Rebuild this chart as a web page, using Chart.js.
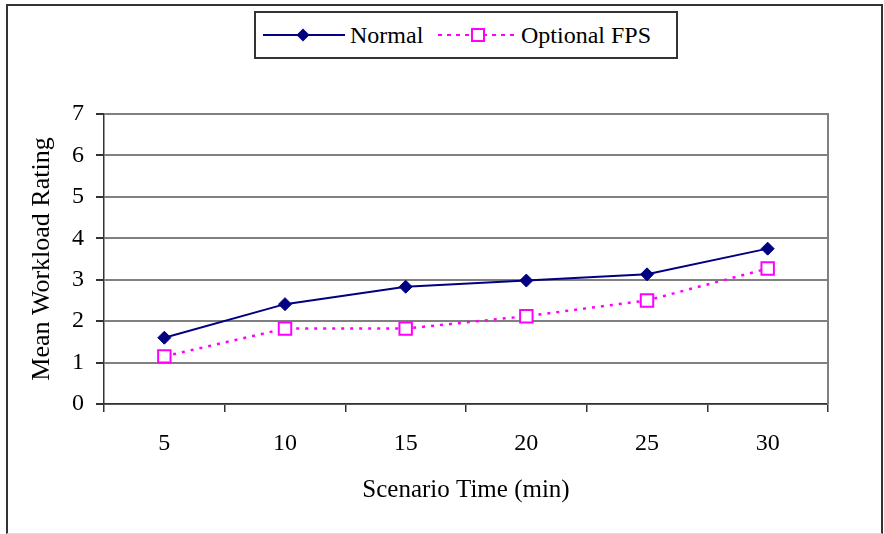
<!DOCTYPE html>
<html>
<head>
<meta charset="utf-8">
<script src="https://cdn.jsdelivr.net/npm/chart.js@4.4.1/dist/chart.umd.min.js"></script>
<style>
  body { margin: 0; background: #fff; }
  #wrap { position: relative; width: 884px; height: 534px; overflow: hidden;
          font-family: "Liberation Serif", "Times New Roman", serif; }
  #chart { position: absolute; left: 0; top: 0; }
  #frame { position: absolute; left: 6px; top: 4px; width: 877px; height: 530px;
           border: 2px solid #333; border-bottom: 1px solid #ddd; box-sizing: border-box; }
  #legend { position: absolute; left: 254px; top: 11px; width: 424px; height: 48px;
            border: 2px solid #333; box-sizing: border-box; background: #fff; }
  .item { position: absolute; top: 0; height: 44px; display: flex; align-items: center; }
  .item span { font-size: 24px; color: #000; margin-left: 5px; }
</style>
</head>
<body>
<div id="wrap">
  <canvas id="chart" width="884" height="534"></canvas>
  <div id="frame"></div>
  <div id="legend"></div>
</div>
<script>
// data
var times = ['5', '10', '15', '20', '25', '30'];
var normal = [1.6, 2.41, 2.83, 2.98, 3.13, 3.75];
var optionalFps = [1.15, 1.82, 1.82, 2.12, 2.5, 3.27];
var seriesNames = ['Normal', 'Optional FPS'];
var yMin = 0, yMax = 7, yStep = 1;

var navy = '#000080';
var magenta = '#FF00FF';

// legend drawn as html so it can have the boxed look of the original
var legend = document.getElementById('legend');
legend.innerHTML =
    '<div class="item" style="left:7px">' +
    '<svg width="82" height="20"><line x1="0" y1="10" x2="82" y2="10" stroke="' + navy + '" stroke-width="2"/>' +
    '<polygon points="40,3.5 46.5,10 40,16.5 33.5,10" fill="' + navy + '"/></svg>' +
    '<span>' + seriesNames[0] + '</span></div>' +
    '<div class="item" style="left:182px">' +
    '<svg width="78" height="20"><line x1="0" y1="10" x2="78" y2="10" stroke="' + magenta + '" stroke-width="2" stroke-dasharray="4 5"/>' +
    '<rect x="34" y="4" width="12" height="12" fill="#fff" stroke="' + magenta + '" stroke-width="2"/></svg>' +
    '<span>' + seriesNames[1] + '</span></div>';

var plotFrame = {
    id: 'plotFrame',
    beforeDatasetsDraw: function (chart) {
        var a = chart.chartArea, ctx = chart.ctx;
        ctx.save();
        ctx.strokeStyle = '#808080';
        ctx.lineWidth = 2;
        ctx.beginPath();
        ctx.moveTo(a.right, a.top - 1);
        ctx.lineTo(a.right, a.bottom);
        ctx.stroke();
        ctx.restore();
    }
};

var serif = 'Liberation Serif';

new Chart(document.getElementById('chart').getContext('2d'), {
    type: 'line',
    data: {
        labels: times,
        datasets: [
            {
                label: seriesNames[0],
                data: normal,
                borderColor: navy,
                backgroundColor: navy,
                borderWidth: 2,
                pointStyle: 'rectRot',
                pointRadius: 6.5,
                pointBorderWidth: 1,
                pointBackgroundColor: navy,
                pointBorderColor: navy,
                tension: 0
            },
            {
                label: seriesNames[1],
                data: optionalFps,
                borderColor: magenta,
                backgroundColor: '#fff',
                borderWidth: 2.5,
                borderDash: [3, 6],
                pointStyle: 'rect',
                pointRadius: 8.8,
                pointBorderWidth: 2,
                pointBackgroundColor: '#fff',
                pointBorderColor: magenta,
                tension: 0
            }
        ]
    },
    options: {
        responsive: false,
        animation: false,
        layout: { padding: { top: 114, right: 56, left: 0, bottom: 0 } },
        plugins: {
            legend: { display: false },
            tooltip: { enabled: false }
        },
        scales: {
            x: {
                offset: true,
                grid: { offset: true, drawOnChartArea: false, drawTicks: true, tickLength: 8,
                        tickColor: '#333', lineWidth: 1.5 },
                border: { color: '#333', width: 1.5 },
                ticks: { color: '#000', padding: 17, font: { family: serif, size: 24 } },
                title: { display: true, text: 'Scenario Time (min)', color: '#000',
                         font: { family: serif, size: 25 }, padding: { top: 0, bottom: 29 } },
                afterFit: function (scale) { scale.height = 130; }
            },
            y: {
                min: yMin,
                max: yMax,
                ticks: { stepSize: yStep, color: '#000', padding: 12, font: { family: serif, size: 24 } },
                grid: { color: '#808080', lineWidth: 2, tickLength: 8, tickColor: '#333' },
                border: { color: '#333', width: 1.5 },
                title: { display: true, text: 'Mean Workload Rating', color: '#000',
                         font: { family: serif, size: 26 }, padding: { top: 27, bottom: 0 } },
                afterFit: function (scale) { scale.width = 104; }
            }
        }
    },
    plugins: [plotFrame]
});
</script>
</body>
</html>
